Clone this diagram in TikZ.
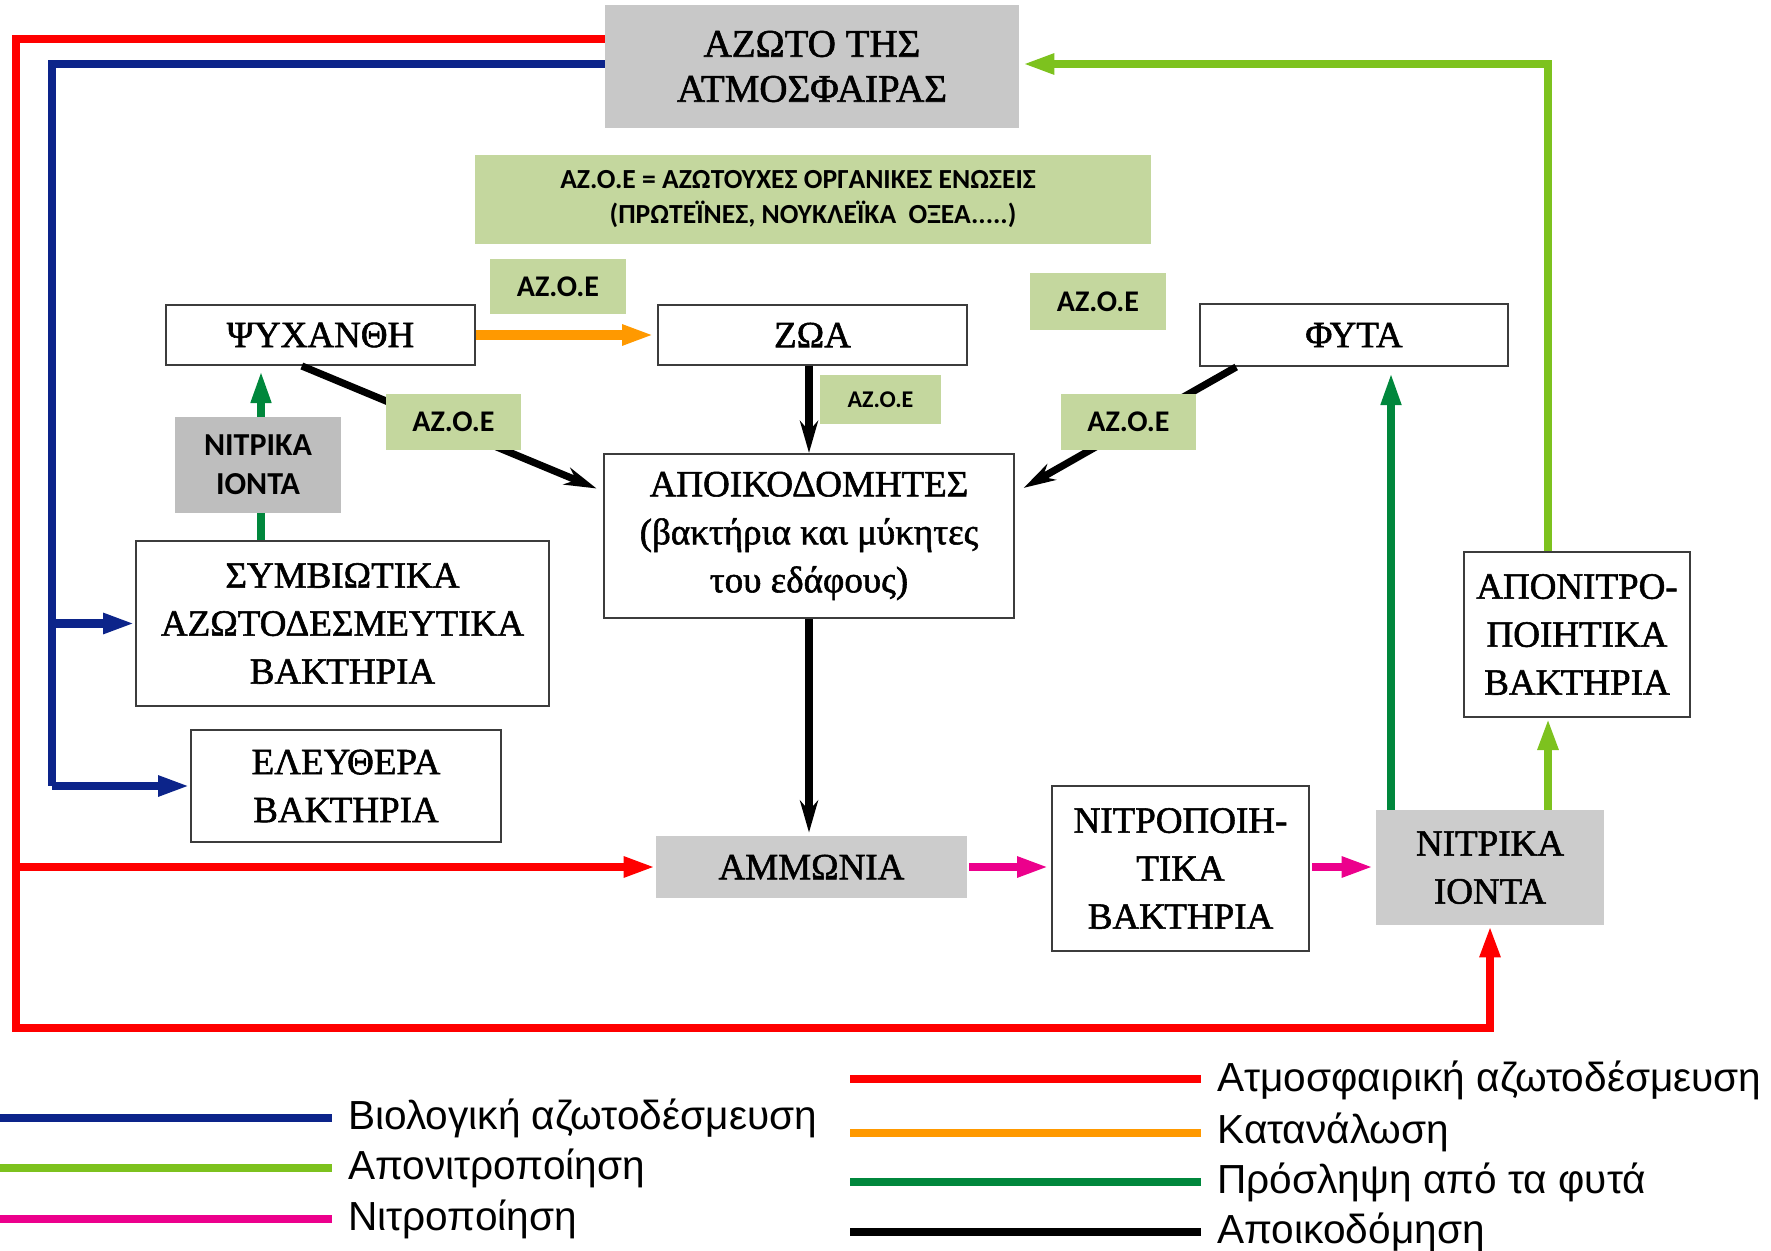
\documentclass[tikz,border=0pt]{standalone}
\usepackage{fontspec}
\setmainfont{Liberation Serif}[FakeBold=1.5]
\newfontfamily\lblfont{Carlito}
\newfontfamily\legfont{Liberation Sans}
\usetikzlibrary{arrows.meta,calc}
\definecolor{boxline}{RGB}{60,60,60}
\definecolor{grayA}{RGB}{200,200,200}
\definecolor{grayB}{RGB}{190,190,190}
\definecolor{grayC}{RGB}{204,204,204}
\definecolor{lgreen}{RGB}{196,215,158}
\definecolor{atmred}{RGB}{255,0,0}
\definecolor{bionavy}{RGB}{12,36,138}
\definecolor{denitgreen}{RGB}{125,194,30}
\definecolor{uptakegreen}{RGB}{0,135,60}
\definecolor{consorange}{RGB}{255,153,0}
\definecolor{nitrmag}{RGB}{236,0,140}
\begin{document}
\begin{tikzpicture}[x=0.5pt,y=-0.5pt,
  box/.style={draw=boxline,line width=1pt,fill=white,inner sep=0pt,align=center,
    font=\fontsize{18.5}{24}\selectfont},
  graybox/.style={fill=grayC,inner sep=0pt,align=center,font=\fontsize{18.5}{24}\selectfont},
  azoe/.style={fill=lgreen,inner sep=0pt,align=center,font=\lblfont\bfseries\fontsize{15}{18}\selectfont},
  tipT/.style={-{Triangle[length=16pt,width=9.5pt]}},
  tipS/.style={-{Stealth[length=16pt,width=9pt,inset=5pt]}},
  flow/.style={line width=4.3pt},
  legline/.style={line width=4pt},
  legtext/.style={anchor=base west,inner sep=0pt,font=\legfont\fontsize{20.3}{22}\selectfont}
]
\useasboundingbox (0,0) rectangle (1771,1251);

% ---------- nodes ----------
\node[graybox,fill=grayA,minimum width=207pt,minimum height=61.5pt,
  font=\fontsize{19.5}{22.5}\selectfont] (atm) at (812,66.5) {ΑΖΩΤΟ ΤΗΣ\\ΑΤΜΟΣΦΑΙΡΑΣ};
\node[box,minimum width=154.5pt,minimum height=30pt] (psy) at (320.5,335) {ΨΥΧΑΝΘΗ};
\node[box,minimum width=154.5pt,minimum height=30pt] (zoa) at (812.5,335) {ΖΩΑ};
\node[box,minimum width=154pt,minimum height=31pt] (fyta) at (1354,335) {ΦΥΤΑ};
\node[box,minimum width=205pt,minimum height=82pt] (apoik) at (809,536)
  {ΑΠΟΙΚΟΔΟΜΗΤΕΣ\\(βακτήρια και μύκητες\\του εδάφους)};
\node[box,minimum width=206.5pt,minimum height=82.5pt] (symb) at (342.5,623.5)
  {ΣΥΜΒΙΩΤΙΚΑ\\ΑΖΩΤΟΔΕΣΜΕΥΤΙΚΑ\\ΒΑΚΤΗΡΙΑ};
\node[box,minimum width=155pt,minimum height=56pt] (eleu) at (346,786) {ΕΛΕΥΘΕΡΑ\\ΒΑΚΤΗΡΙΑ};
\node[graybox,minimum width=155.5pt,minimum height=31pt] (amm) at (811.5,867) {ΑΜΜΩΝΙΑ};
\node[box,minimum width=128.5pt,minimum height=82.5pt] (nitro) at (1180.5,868.5)
  {ΝΙΤΡΟΠΟΙΗ-\\ΤΙΚΑ\\ΒΑΚΤΗΡΙΑ};
\node[graybox,minimum width=114pt,minimum height=57.5pt] (nitR) at (1490,867.5) {ΝΙΤΡΙΚΑ\\ΙΟΝΤΑ};
\node[box,minimum width=113pt,minimum height=82.5pt] (apon) at (1577,634.5)
  {ΑΠΟΝΙΤΡΟ-\\ΠΟΙΗΤΙΚΑ\\ΒΑΚΤΗΡΙΑ};
\node[fill=grayB,inner sep=0pt,align=center,minimum width=83pt,minimum height=48pt,
  font=\lblfont\bfseries\fontsize{16}{19.5}\selectfont] (nitL) at (258,465) {ΝΙΤΡΙΚΑ\\ΙΟΝΤΑ};

% ---------- coordinates for bends ----------
\coordinate (r1) at (16,39);
\coordinate (r2) at (16,1028);
\coordinate (b1) at (52,64);
\coordinate (g1) at (1548,64);
\coordinate (dg) at (1391,0);
\coordinate (dgl) at (261,0);

% ---------- connectors ----------
% atmospheric fixation (red)
\draw[flow,atmred] (atm.west |- r1) -- (r1) -- (r2) -- (nitR.south |- r2)
  [tipT] -- (nitR.south);
\draw[flow,atmred,tipT] (r1 |- amm.west) -- (amm.west);
% biological fixation (navy)
\draw[flow,bionavy] (atm.west |- b1) -- (b1) -- (b1 |- eleu.west);
\draw[flow,bionavy,tipT] (b1 |- eleu.west) -- (eleu.west);
\draw[flow,bionavy,tipT] (b1 |- symb.west) -- (symb.west);
% denitrification (light green)
\draw[flow,denitgreen,line width=4pt,tipT,shorten >=1.5pt] (apon.north -| g1) -- (g1) -- (atm.east |- g1);
\draw[flow,denitgreen,line width=4pt,tipT] (nitR.north -| g1) -- (apon.south -| g1);
% uptake by plants (dark green)
\draw[flow,uptakegreen,line width=3.6pt,tipT,shorten >=3pt] (nitR.north -| dg) -- (fyta.south -| dg);
\draw[flow,uptakegreen,line width=3.6pt] (symb.north -| dgl) -- (nitL.south -| dgl);
\draw[flow,uptakegreen,line width=3.6pt,tipT,shorten >=2.5pt] (nitL.north -| dgl) -- (psy.south -| dgl);
% consumption (orange)
\draw[flow,consorange,line width=5pt,tipT,shorten >=1.5pt] (psy.east) -- (zoa.west);
% nitrification (magenta)
\draw[flow,nitrmag,tipT,shorten <=1pt,shorten >=1pt] (amm.east) -- (amm.east -| nitro.west);
\draw[flow,nitrmag,tipT,shorten <=1pt,shorten >=1pt] (amm.east -| nitro.east) -- (amm.east -| nitR.west);
% decomposition (black)
\draw[flow,black,line width=3.8pt,tipS] (apoik.north |- zoa.south) -- (apoik.north);
\draw[flow,black,line width=3.8pt,tipS,shorten >=1.5pt] (apoik.south) -- (apoik.south |- amm.north);
\draw[flow,black,line width=3.6pt,tipS,shorten >=3.5pt]
  ($(psy.south west)!0.44!(psy.south east)$) -- ($(apoik.north west)!0.23!(apoik.south west)$);
\draw[flow,black,line width=3.6pt,tipS,shorten >=5pt]
  ($(fyta.south west)!0.12!(fyta.south east)$) -- ($(apoik.north east)!0.24!(apoik.south east)$);

% ---------- green labels ----------
\node[azoe,minimum width=338pt,minimum height=44.5pt,font=\lblfont\bfseries\fontsize{13.8}{17.5}\selectfont]
  (def) at (813,199.5) {ΑΖ.Ο.Ε = ΑΖΩΤΟΥΧΕΣ ΟΡΓΑΝΙΚΕΣ ΕΝΩΣΕΙΣ\hspace*{15pt}\\(ΠΡΩΤΕΪΝΕΣ, ΝΟΥΚΛΕΪΚΑ\ \ ΟΞΕΑ.....)};
\node[azoe,minimum width=68pt,minimum height=27.5pt] (az1) at (558,286.5) {ΑΖ.Ο.Ε};
\node[azoe,minimum width=68pt,minimum height=28.5pt] (az2) at (1098,301.5) {ΑΖ.Ο.Ε};
\node[azoe,minimum width=60.5pt,minimum height=24.5pt,font=\lblfont\bfseries\fontsize{12}{14}\selectfont]
  (az3) at (880.5,399.5) {ΑΖ.Ο.Ε};
\node[azoe,minimum width=67.5pt,minimum height=28pt] (az4) at (453.5,422) {ΑΖ.Ο.Ε};
\node[azoe,minimum width=67.5pt,minimum height=28pt] (az5) at (1128.5,422) {ΑΖ.Ο.Ε};

% ---------- legend ----------
\draw[legline,bionavy] (0,1118) -- (332,1118);
\draw[legline,denitgreen] (0,1168) -- (332,1168);
\draw[legline,nitrmag] (0,1219) -- (332,1219);
\node[legtext] (l1) at (348,1129) {Βιολογική αζωτοδέσμευση};
\node[legtext] (l2) at (348,1179) {Απονιτροποίηση};
\node[legtext] (l3) at (348,1230) {Νιτροποίηση};
\draw[legline,atmred] (850,1079) -- (1201,1079);
\draw[legline,consorange] (850,1133) -- (1201,1133);
\draw[legline,uptakegreen] (850,1182) -- (1201,1182);
\draw[legline,black] (850,1232) -- (1201,1232);
\node[legtext] (r1t) at (1217,1091) {Ατμοσφαιρική αζωτοδέσμευση};
\node[legtext] (r2t) at (1217,1143) {Κατανάλωση};
\node[legtext] (r3t) at (1217,1193) {Πρόσληψη από τα φυτά};
\node[legtext] (r4t) at (1217,1243) {Αποικοδόμηση};
\end{tikzpicture}
\end{document}
